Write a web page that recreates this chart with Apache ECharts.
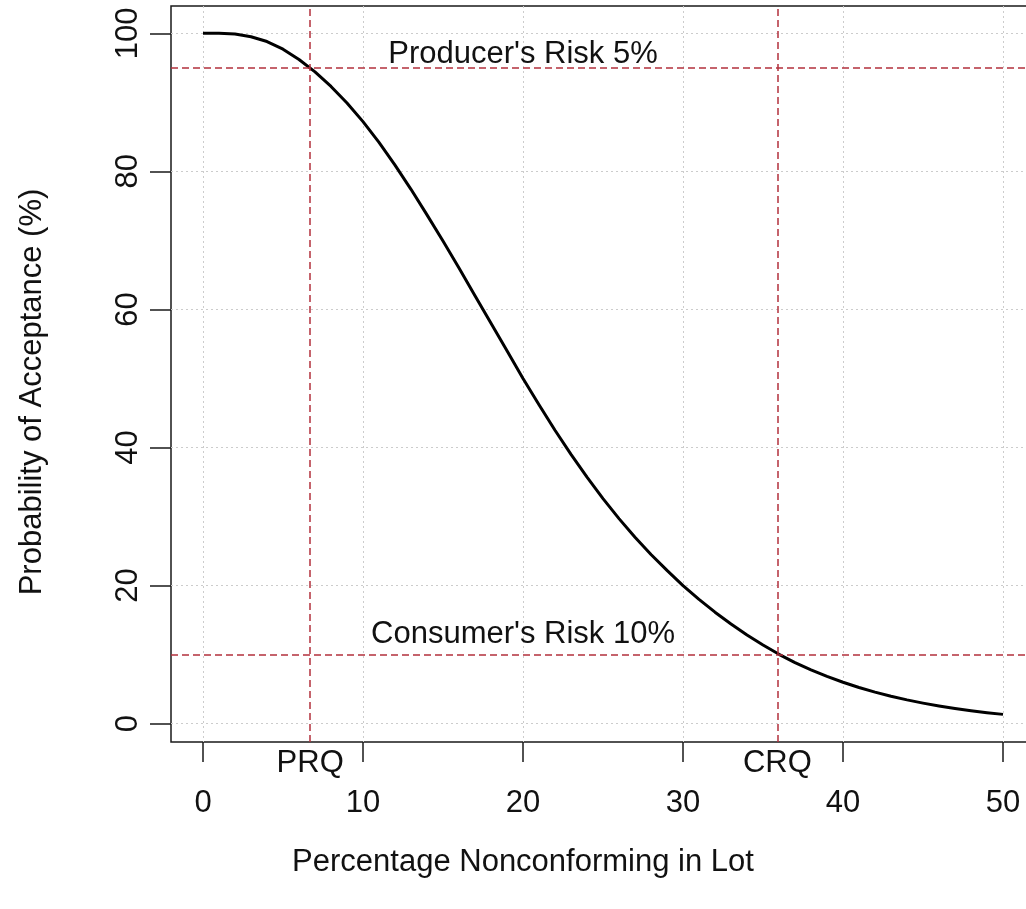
<!DOCTYPE html>
<html><head><meta charset="utf-8">
<script src="https://cdn.jsdelivr.net/npm/echarts@6/dist/echarts.min.js"></script>
<style>html,body{margin:0;padding:0;background:#fff;} #c{width:1026px;height:909px;}</style>
</head><body><div id="c"></div>
<script>
// ---- data ----
const pctNonconforming = [0,1,2,3,4,5,6,7,8,9,10,11,12,13,14,15,16,17,18,19,20,21,22,23,24,25,26,27,28,29,30,31,32,33,34,35,36,37,38,39,40,41,42,43,44,45,46,47,48,49,50];
const probAcceptance = [100,100,99.9,99.5,98.8,97.7,96.2,94.4,92.3,89.9,87.2,84.2,80.9,77.4,73.7,69.9,66.0,62.0,58.0,54.0,50.0,46.2,42.5,39.0,35.7,32.6,29.7,27.0,24.5,22.2,20.0,18.0,16.15,14.45,12.85,11.4,10.05,8.85,7.8,6.85,6.0,5.25,4.58,3.98,3.45,2.98,2.56,2.19,1.87,1.59,1.35];
const xTickValues = [0,10,20,30,40,50];
const yTickValues = [0,20,40,60,80,100];
const refXValues = [6.7, 35.9];
const refXLabels = ['PRQ', 'CRQ'];
const refYValues = [95, 10];
const riskTexts = ["Producer's Risk 5%", "Consumer's Risk 10%"];
const riskTextX = [20, 20];
const riskTextY = [96.9, 12.9];
const xTitle = 'Percentage Nonconforming in Lot';
const yTitle = 'Probability of Acceptance (%)';

const FONT = '"Liberation Sans", Arial, sans-serif';
const FS = 31;
const TXT = '#111';
const REF = '#b3303c';

const curve = pctNonconforming.map((x, i) => [x, probAcceptance[i]]);

const chart = echarts.init(document.getElementById('c'), null, {renderer: 'canvas'});
chart.setOption({
  animation: false,
  backgroundColor: '#ffffff',
  grid: {left: 171, top: 6, width: 864, height: 736, show: true, borderColor: '#1a1a1a', borderWidth: 1.5,
         backgroundColor: 'transparent', containLabel: false, outerBoundsMode: 'none'},
  xAxis: [{
    type: 'value', min: -2, max: 52,
    axisLine: {show: false, onZero: false},
    axisTick: {show: true, customValues: xTickValues, length: 20, lineStyle: {color: '#1a1a1a', width: 1.5}},
    axisLabel: {customValues: xTickValues, margin: 46, fontSize: FS, color: TXT, fontFamily: FONT},
    splitLine: {show: true, lineStyle: {color: '#cccccc', type: [2, 3], width: 1}}
  }, {
    type: 'value', min: -2, max: 52, position: 'bottom',
    axisLine: {show: false, onZero: false}, axisTick: {show: false}, splitLine: {show: false},
    axisLabel: {customValues: refXValues, margin: 6, fontSize: FS, color: TXT, fontFamily: FONT,
      formatter: v => {
        let best = 0;
        refXValues.forEach((r, i) => { if (Math.abs(r - v) < Math.abs(refXValues[best] - v)) best = i; });
        return refXLabels[best];
      }}
  }],
  yAxis: {
    type: 'value', min: -2.65, max: 103.95,
    axisLine: {show: false, onZero: false},
    axisTick: {show: true, customValues: yTickValues, length: 21, lineStyle: {color: '#1a1a1a', width: 1.5}},
    axisLabel: {customValues: yTickValues, margin: 27, rotate: 90, fontSize: FS, color: TXT, fontFamily: FONT},
    splitLine: {show: true, lineStyle: {color: '#cccccc', type: [2, 3], width: 1}}
  },
  series: [{
    type: 'line', data: curve, showSymbol: false, smooth: false, xAxisIndex: 0,
    lineStyle: {color: '#000', width: 3, join: 'round'},
    markLine: {
      silent: true, symbol: 'none', label: {show: false},
      lineStyle: {color: REF, type: [7, 4], width: 1.5},
      data: refXValues.map(v => ({xAxis: v})).concat(refYValues.map(v => ({yAxis: v})))
    }
  }]
});

const annotGraphics = riskTexts.map((t, i) => {
  const p = chart.convertToPixel({xAxisIndex: 0, yAxisIndex: 0}, [riskTextX[i], riskTextY[i]]);
  return {type: 'text', x: p[0], y: p[1], style: {text: t, fontSize: FS, fill: TXT, fontFamily: FONT, align: 'center', verticalAlign: 'middle'}};
});
chart.setOption({
  graphic: annotGraphics.concat([
    {type: 'text', x: 523, y: 862, style: {text: xTitle, fontSize: FS, fill: TXT, fontFamily: FONT, align: 'center', verticalAlign: 'middle'}},
    {type: 'text', x: 32, y: 392, rotation: Math.PI / 2, style: {text: yTitle, fontSize: FS, fill: TXT, fontFamily: FONT, align: 'center', verticalAlign: 'middle'}}
  ])
});
</script></body></html>
